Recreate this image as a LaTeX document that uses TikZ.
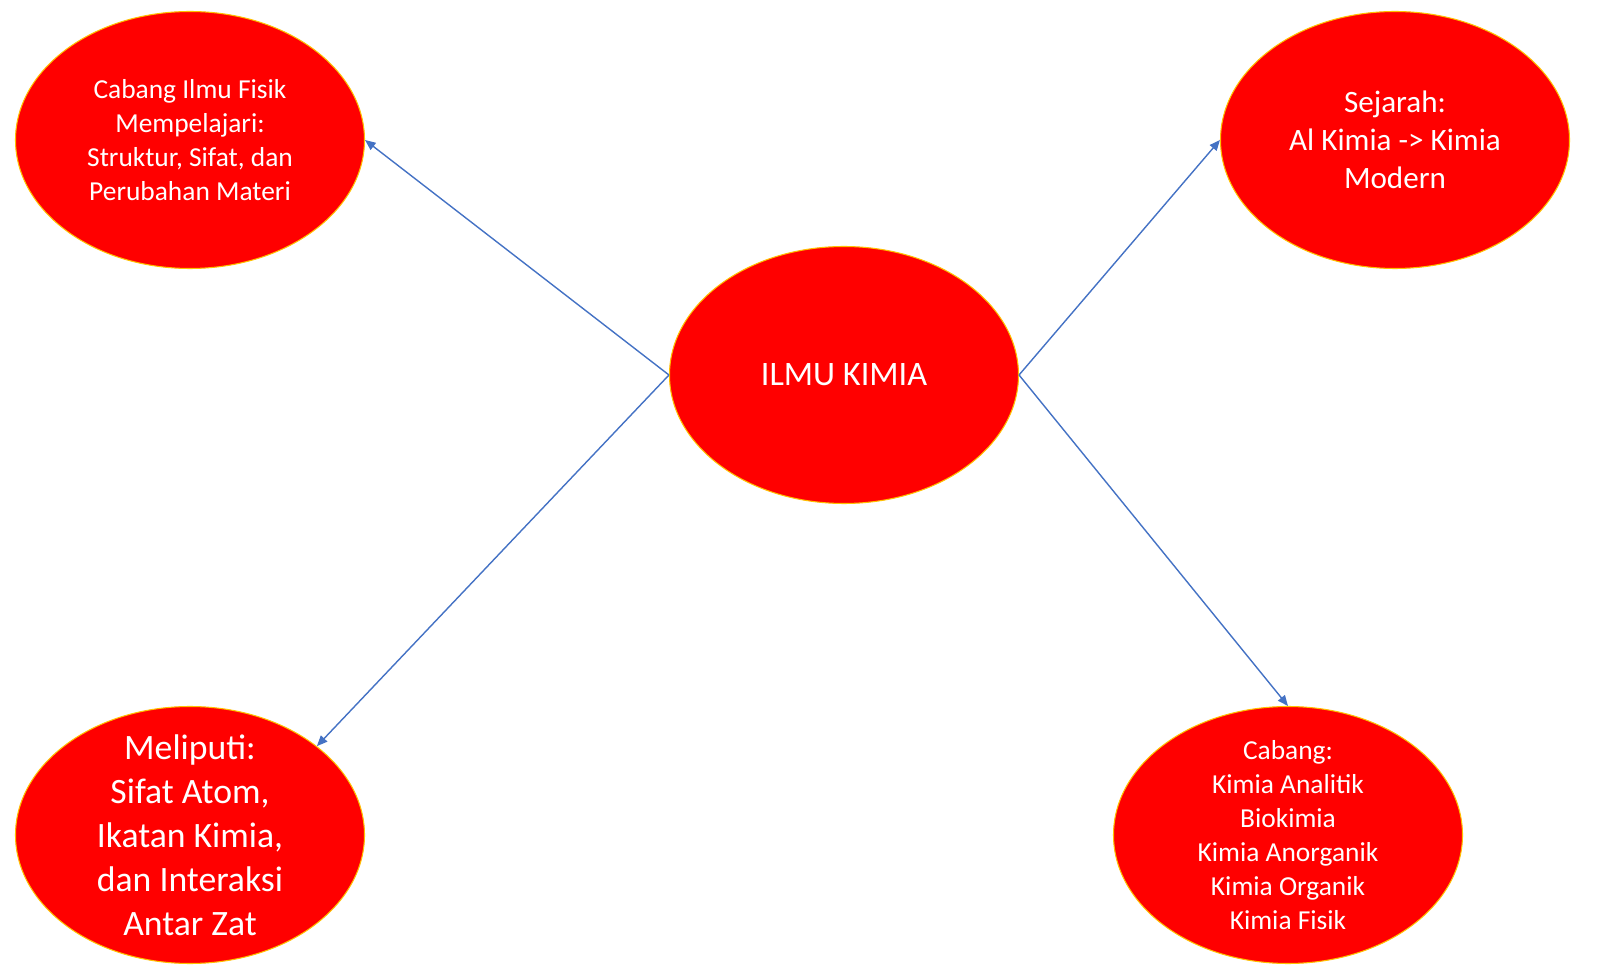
\documentclass[tikz,border=0pt]{standalone}
\usepackage{fontspec}
\setmainfont{Carlito}
\usetikzlibrary{arrows.meta,shapes.geometric}
\definecolor{topicred}{RGB}{255,0,0}
\definecolor{topicrim}{RGB}{255,192,0}
\definecolor{linkblue}{RGB}{68,114,196}
\tikzset{
  topic/.style={ellipse, draw=topicrim, fill=topicred, line width=0.6pt,
                minimum width=6.98cm, minimum height=5.14cm, inner sep=-1cm,
                text=white, align=center},
  link/.style ={-{Triangle[length=6pt, width=5pt]}, line width=0.8pt, linkblue},
  fsmall/.style={font=\fontsize{15.6}{19.4}\selectfont},
  fmid/.style  ={font=\fontsize{17.7}{21.8}\selectfont},
  fbig/.style  ={font=\fontsize{20.3}{25}\selectfont},
}

\begin{document}
\begin{tikzpicture}
\useasboundingbox (0,0) rectangle (32,19.56);
\node[topic, font=\fontsize{19.5}{23}\selectfont] (kimia) at (16.88,12.06) {ILMU KIMIA};
\node[topic, fsmall] (fisik) at (3.8,16.76)
  {Cabang Ilmu Fisik\\Mempelajari:\\Struktur, Sifat, dan\\Perubahan Materi};
\node[topic, fmid] (sejarah) at (27.9,16.76)
  {Sejarah:\\Al Kimia -> Kimia\\Modern};
\node[topic, fbig] (meliputi) at (3.8,2.86)
  {Meliputi:\\Sifat Atom,\\Ikatan Kimia,\\dan Interaksi\\Antar Zat};
\node[topic, fsmall] (cabang) at (25.76,2.86)
  {Cabang:\\Kimia Analitik\\Biokimia\\Kimia Anorganik\\Kimia Organik\\Kimia Fisik};
\draw[link] (kimia.west) -- (fisik.east);
\draw[link] (kimia.west) -- (meliputi.35);
\draw[link] (kimia.east) -- (sejarah.west);
\draw[link] (kimia.east) -- (cabang.north);
\end{tikzpicture}
\end{document}
